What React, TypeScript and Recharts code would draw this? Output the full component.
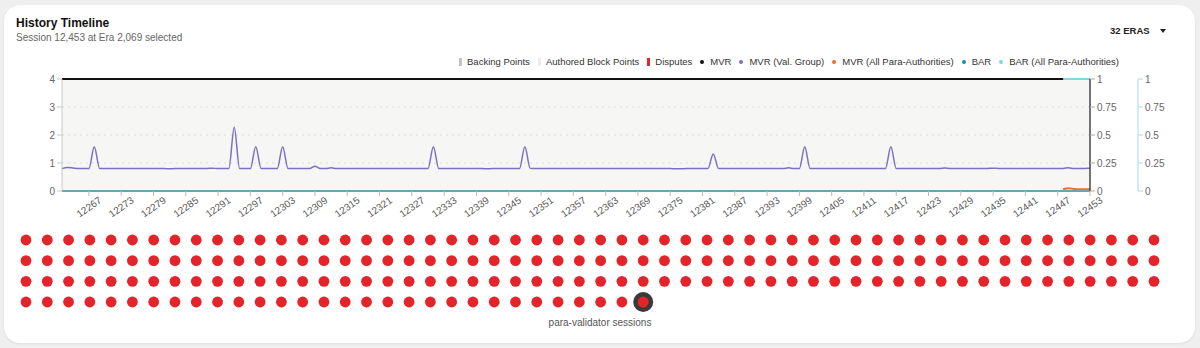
import { Bar, CartesianGrid, ComposedChart, Line, Scatter, ScatterChart, XAxis, YAxis } from "recharts";

const FIRST_SESSION = 12262;
const LAST_SESSION = 12453;
const SELECTED_SESSION = 12453;
const SELECTED_ERA = 2069;
const ERA_COUNT = 32;
const TAIL_START = 12448;

const X_TICKS = [
  12267, 12273, 12279, 12285, 12291, 12297, 12303, 12309, 12315, 12321, 12327, 12333, 12339, 12345, 12351, 12357,
  12363, 12369, 12375, 12381, 12387, 12393, 12399, 12405, 12411, 12417, 12423, 12429, 12435, 12441, 12447, 12453,
];
const LEFT_TICKS = [0, 1, 2, 3, 4];
const RIGHT_TICKS = [0, 0.25, 0.5, 0.75, 1];

// MVR (Val. Group), one value per session
const MVR_VAL_GROUP = [
  0.2, 0.21, 0.206, 0.2, 0.2, 0.2, 0.395, 0.2, 0.2, 0.2, 0.2, 0.2,
  0.2, 0.2, 0.2, 0.2, 0.201, 0.2, 0.2, 0.2, 0.199, 0.2, 0.2, 0.2,
  0.2, 0.2, 0.2, 0.201, 0.204, 0.2, 0.2, 0.2, 0.57, 0.2, 0.2, 0.2,
  0.395, 0.2, 0.2, 0.2, 0.2, 0.395, 0.2, 0.2, 0.2, 0.2, 0.2, 0.222,
  0.2, 0.2, 0.208, 0.2, 0.2, 0.201, 0.202, 0.2, 0.2, 0.2, 0.201, 0.2,
  0.2, 0.2, 0.2, 0.2, 0.2, 0.2, 0.2, 0.2, 0.2, 0.395, 0.2, 0.2,
  0.2, 0.2, 0.2, 0.2, 0.2, 0.2, 0.2, 0.199, 0.2, 0.2, 0.2, 0.2,
  0.2, 0.2, 0.395, 0.202, 0.2, 0.2, 0.2, 0.2, 0.2, 0.2, 0.2, 0.2,
  0.2, 0.2, 0.2, 0.2, 0.2, 0.201, 0.2, 0.2, 0.2, 0.2, 0.2, 0.2,
  0.2, 0.2, 0.2, 0.2, 0.2, 0.2, 0.199, 0.199, 0.2, 0.2, 0.2, 0.2,
  0.2, 0.33, 0.2, 0.2, 0.2, 0.2, 0.2, 0.2, 0.2, 0.2, 0.2, 0.2,
  0.2, 0.2, 0.2, 0.208, 0.2, 0.2, 0.395, 0.2, 0.2, 0.2, 0.2, 0.2,
  0.2, 0.2, 0.2, 0.2, 0.2, 0.2, 0.2, 0.2, 0.2, 0.2, 0.395, 0.2,
  0.2, 0.2, 0.2, 0.2, 0.2, 0.2, 0.2, 0.2, 0.206, 0.2, 0.2, 0.2,
  0.2, 0.2, 0.2, 0.2, 0.202, 0.204, 0.202, 0.2, 0.2, 0.2, 0.2, 0.2,
  0.201, 0.201, 0.202, 0.201, 0.201, 0.202, 0.201, 0.208, 0.2, 0.201, 0.202, 0.203,
];

// MVR, one value per session
const MVR = [
  1, 1, 1, 1, 1, 1, 1, 1, 1, 1, 1, 1, 1, 1, 1, 1, 1, 1, 1, 1, 1, 1, 1, 1,
  1, 1, 1, 1, 1, 1, 1, 1, 1, 1, 1, 1, 1, 1, 1, 1, 1, 1, 1, 1, 1, 1, 1, 1,
  1, 1, 1, 1, 1, 1, 1, 1, 1, 1, 1, 1, 1, 1, 1, 1, 1, 1, 1, 1, 1, 1, 1, 1,
  1, 1, 1, 1, 1, 1, 1, 1, 1, 1, 1, 1, 1, 1, 1, 1, 1, 1, 1, 1, 1, 1, 1, 1,
  1, 1, 1, 1, 1, 1, 1, 1, 1, 1, 1, 1, 1, 1, 1, 1, 1, 1, 1, 1, 1, 1, 1, 1,
  1, 1, 1, 1, 1, 1, 1, 1, 1, 1, 1, 1, 1, 1, 1, 1, 1, 1, 1, 1, 1, 1, 1, 1,
  1, 1, 1, 1, 1, 1, 1, 1, 1, 1, 1, 1, 1, 1, 1, 1, 1, 1, 1, 1, 1, 1, 1, 1,
  1, 1, 1, 1, 1, 1, 1, 1, 1, 1, 1, 1, 1, 1, 1, 1, 1, 1, 1, 1, 1, 1, 1, 1,
];

// BAR, one value per session
const BAR = [
  0, 0, 0, 0, 0, 0, 0, 0, 0, 0, 0, 0, 0, 0, 0, 0, 0, 0, 0, 0, 0, 0, 0, 0,
  0, 0, 0, 0, 0, 0, 0, 0, 0, 0, 0, 0, 0, 0, 0, 0, 0, 0, 0, 0, 0, 0, 0, 0,
  0, 0, 0, 0, 0, 0, 0, 0, 0, 0, 0, 0, 0, 0, 0, 0, 0, 0, 0, 0, 0, 0, 0, 0,
  0, 0, 0, 0, 0, 0, 0, 0, 0, 0, 0, 0, 0, 0, 0, 0, 0, 0, 0, 0, 0, 0, 0, 0,
  0, 0, 0, 0, 0, 0, 0, 0, 0, 0, 0, 0, 0, 0, 0, 0, 0, 0, 0, 0, 0, 0, 0, 0,
  0, 0, 0, 0, 0, 0, 0, 0, 0, 0, 0, 0, 0, 0, 0, 0, 0, 0, 0, 0, 0, 0, 0, 0,
  0, 0, 0, 0, 0, 0, 0, 0, 0, 0, 0, 0, 0, 0, 0, 0, 0, 0, 0, 0, 0, 0, 0, 0,
  0, 0, 0, 0, 0, 0, 0, 0, 0, 0, 0, 0, 0, 0, 0, 0, 0, 0, 0, 0, 0, 0, 0, 0,
];

// points per session (none were earned or disputed in this window)
const BACKING_POINTS = BAR;
const AUTHORED_BLOCK_POINTS = BAR;
const DISPUTES = BAR;

// only the last sessions have all-para-authority values
const MVR_ALL_PARA_TAIL = [0.015, 0.025, 0.018, 0.015, 0.015, 0.015];
const BAR_ALL_PARA_TAIL = [1, 1, 1, 1, 1, 1];

const LEGEND = [
  { name: "Backing Points", kind: "bar", color: "#c4c4c4" },
  { name: "Authored Block Points", kind: "bar", color: "#ececec" },
  { name: "Disputes", kind: "bar", color: "#e3242b" },
  { name: "MVR", kind: "line", color: "#111111" },
  { name: "MVR (Val. Group)", kind: "line", color: "#7d70c1" },
  { name: "MVR (All Para-Authorities)", kind: "line", color: "#e8702e" },
  { name: "BAR", kind: "line", color: "#178fa5" },
  { name: "BAR (All Para-Authorities)", kind: "line", color: "#80d5ea" },
];

const DOTS_PER_ROW = 54;
const FONT = "'Liberation Sans', Arial, sans-serif";

const sessions = Array.from({ length: LAST_SESSION - FIRST_SESSION + 1 }, (_, i) => FIRST_SESSION + i);

const rows = sessions.map((session, i) => ({
  session,
  backing: BACKING_POINTS[i],
  authored: AUTHORED_BLOCK_POINTS[i],
  disputes: DISPUTES[i],
  mvr: MVR[i],
  mvrValGroup: MVR_VAL_GROUP[i],
  bar: BAR[i],
  mvrAllPara: session >= TAIL_START ? MVR_ALL_PARA_TAIL[session - TAIL_START] : null,
  barAllPara: session >= TAIL_START ? BAR_ALL_PARA_TAIL[session - TAIL_START] : null,
}));

const dots = sessions.map((session, i) => ({
  session,
  col: i % DOTS_PER_ROW,
  row: Math.floor(i / DOTS_PER_ROW),
}));

const XTick = ({ x, y, payload }: any) => (
  <g transform={`translate(${x},${y + 9})`}>
    <text transform="rotate(-35)" textAnchor="middle" dominantBaseline="central" fontSize={10} fill="#555">
      {payload.value}
    </text>
  </g>
);

const SessionDot = ({ cx, cy, payload }: any) => {
  if (payload.session === SELECTED_SESSION) {
    return (
      <g>
        <circle cx={cx} cy={cy} r={10} fill="#3a3a3a" />
        <circle cx={cx} cy={cy} r={5.5} fill="#e3242b" />
      </g>
    );
  }
  return <circle cx={cx} cy={cy} r={5.4} fill="#e3242b" />;
};

const color = (name: string) => LEGEND.find((l) => l.name === name)!.color;

export default function App() {
  const tickStyle = { fontSize: 10, fill: "#666" };
  return (
    <div
      style={{
        position: "absolute",
        left: 0,
        top: 0,
        width: 1200,
        height: 348,
        background: "#efefef",
        fontFamily: FONT,
        overflow: "hidden",
      }}
    >
      <div
        style={{
          position: "absolute",
          left: 4,
          top: 5,
          width: 1191,
          height: 338,
          borderRadius: 16,
          background: "#fff",
          boxShadow: "0 1px 3px rgba(0,0,0,0.08)",
        }}
      />
      <div style={{ position: "absolute", left: 16, top: 16, fontSize: 12, fontWeight: 700, color: "#111" }}>
        History Timeline
      </div>
      <div style={{ position: "absolute", left: 16, top: 32, fontSize: 10, color: "#666" }}>
        Session {SELECTED_SESSION.toLocaleString("en-US")} at Era {SELECTED_ERA.toLocaleString("en-US")} selected
      </div>
      <div
        style={{
          position: "absolute",
          left: 1110,
          top: 25,
          fontSize: 9.5,
          fontWeight: 700,
          color: "#222",
          display: "flex",
          alignItems: "center",
        }}
      >
        {ERA_COUNT} ERAS
        <span
          style={{
            marginLeft: 10,
            width: 0,
            height: 0,
            borderLeft: "3.5px solid transparent",
            borderRight: "3.5px solid transparent",
            borderTop: "4px solid #222",
          }}
        />
      </div>

      <div
        style={{
          position: "absolute",
          right: 81,
          top: 56,
          display: "flex",
          alignItems: "center",
          fontSize: 9.5,
          color: "#333",
          whiteSpace: "nowrap",
        }}
      >
        {LEGEND.map((item) => (
          <div key={item.name} style={{ display: "flex", alignItems: "center", marginLeft: 8 }}>
            {item.kind === "bar" ? (
              <span style={{ width: 3, height: 8, background: item.color, marginRight: 5 }} />
            ) : (
              <span style={{ width: 4, height: 4, borderRadius: 2, background: item.color, marginRight: 6 }} />
            )}
            {item.name}
          </div>
        ))}
      </div>

      <div style={{ position: "absolute", left: 0, top: 0 }}>
        <ComposedChart width={1200} height={240} data={rows} margin={{ top: 79, right: 12, bottom: 0, left: 0 }}>
          <CartesianGrid
            yAxisId="left"
            vertical={false}
            fill="#f6f6f4"
            stroke="#dcdcdc"
            strokeDasharray="2 4"
          />
          <XAxis
            dataKey="session"
            type="number"
            domain={[FIRST_SESSION, LAST_SESSION]}
            ticks={X_TICKS}
            interval={0}
            height={49}
            tick={<XTick />}
            tickSize={5}
            stroke="#bbb"
          />
          <YAxis
            yAxisId="left"
            domain={[0, 4]}
            ticks={LEFT_TICKS}
            width={62}
            tick={tickStyle}
            tickSize={5}
            stroke="#c8c8c8"
          />
          <YAxis
            yAxisId="right"
            orientation="right"
            domain={[0, 1]}
            ticks={RIGHT_TICKS}
            width={48}
            tick={tickStyle}
            tickSize={5}
            axisLine={{ stroke: "#444", strokeWidth: 1.5 }}
            tickLine={{ stroke: "#aaa" }}
          />
          <YAxis
            yAxisId="right2"
            orientation="right"
            domain={[0, 1]}
            ticks={RIGHT_TICKS}
            width={50}
            tick={tickStyle}
            tickSize={5}
            axisLine={{ stroke: "#9fdcec" }}
            tickLine={{ stroke: "#9fdcec" }}
          />
          <Bar yAxisId="left" dataKey="backing" stackId="pts" fill={color("Backing Points")} barSize={3} isAnimationActive={false} />
          <Bar yAxisId="left" dataKey="authored" stackId="pts" fill={color("Authored Block Points")} barSize={3} isAnimationActive={false} />
          <Bar yAxisId="left" dataKey="disputes" stackId="pts" fill={color("Disputes")} barSize={3} isAnimationActive={false} />
          <Line
            yAxisId="right"
            dataKey="mvrValGroup"
            type="monotone"
            stroke={color("MVR (Val. Group)")}
            strokeWidth={1.5}
            dot={false}
            isAnimationActive={false}
          />
          <Line
            yAxisId="right2"
            dataKey="bar"
            type="linear"
            stroke={color("BAR")}
            strokeWidth={2}
            dot={false}
            isAnimationActive={false}
          />
          <Line
            yAxisId="right"
            dataKey="mvrAllPara"
            type="monotone"
            stroke={color("MVR (All Para-Authorities)")}
            strokeWidth={2}
            dot={false}
            isAnimationActive={false}
          />
          <Line
            yAxisId="right"
            dataKey="mvr"
            type="linear"
            stroke={color("MVR")}
            strokeWidth={2}
            dot={false}
            isAnimationActive={false}
          />
          <Line
            yAxisId="right2"
            dataKey="barAllPara"
            type="linear"
            stroke={color("BAR (All Para-Authorities)")}
            strokeWidth={2}
            dot={false}
            isAnimationActive={false}
          />
        </ComposedChart>
      </div>

      <div style={{ position: "absolute", left: 0, top: 225 }}>
        <ScatterChart width={1200} height={100} margin={{ top: 15, right: 46, bottom: 23, left: 26 }}>
          <XAxis type="number" dataKey="col" domain={[0, DOTS_PER_ROW - 1]} hide />
          <YAxis type="number" dataKey="row" domain={[0, 3]} reversed hide />
          <Scatter data={dots} shape={<SessionDot />} isAnimationActive={false} />
        </ScatterChart>
      </div>

      <div
        style={{
          position: "absolute",
          left: 0,
          top: 317,
          width: 1200,
          textAlign: "center",
          fontSize: 10,
          color: "#555",
        }}
      >
        para-validator sessions
      </div>
    </div>
  );
}
